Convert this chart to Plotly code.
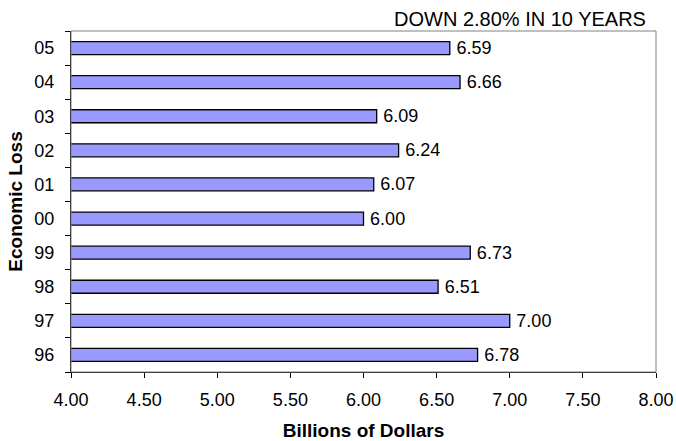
import plotly.graph_objects as go

years = ['96', '97', '98', '99', '00', '01', '02', '03', '04', '05']
losses = [6.78, 7.00, 6.51, 6.73, 6.00, 6.07, 6.24, 6.09, 6.66, 6.59]
x_ticks = [4.0, 4.5, 5.0, 5.5, 6.0, 6.5, 7.0, 7.5, 8.0]

fig = go.Figure()

fig.add_trace(go.Bar(
    x=losses,
    y=years,
    orientation='h',
    width=0.38,
    marker={'color': '#9999FF', 'line': {'color': 'black', 'width': 1.3}},
    texttemplate='\u2009%{x:.2f}',
    textposition='outside',
    constraintext='none',
    textfont={'family': 'Arial, Liberation Sans', 'size': 18, 'color': 'black'},
    cliponaxis=False,
))

fig.update_layout(
    width=676, height=441,
    margin={'l': 71, 'r': 20, 't': 31, 'b': 69},
    plot_bgcolor='white', paper_bgcolor='white',
    showlegend=False,
    font={'family': 'Arial, Liberation Sans', 'size': 18, 'color': 'black'},
    xaxis={
        'range': [4, 8],
        'tickvals': x_ticks,
        'ticktext': [f"{v:.2f}" for v in x_ticks],
        'ticks': 'outside', 'ticklen': 5, 'tickcolor': 'black',
        'ticklabelstandoff': 6,
        'showline': True, 'linecolor': 'black', 'linewidth': 1,
        'showgrid': False, 'zeroline': False,
        'automargin': False,
        'title': {'text': '<b>Billions of Dollars</b>', 'standoff': 18,
                  'font': {'size': 19}},
    },
    yaxis={
        'type': 'category',
        'categoryorder': 'array', 'categoryarray': years,
        'tickson': 'boundaries',
        'ticks': 'outside', 'ticklen': 5, 'tickcolor': 'black',
        'ticklabelstandoff': 12,
        'showline': True, 'linecolor': 'black', 'linewidth': 1,
        'showgrid': False,
        'automargin': False,
        'title': {'text': '<b>Economic Loss</b>', 'standoff': 6,
                  'font': {'size': 19}},
    },
    shapes=[{
        'type': 'rect', 'xref': 'paper', 'yref': 'paper',
        'x0': 0, 'x1': 1, 'y0': 0, 'y1': 1,
        'line': {'color': '#808080', 'width': 1},
    }],
    annotations=[{
        'text': 'DOWN 2.80% IN 10 YEARS',
        'xref': 'paper', 'yref': 'paper',
        'x': 0.986, 'y': 1.0, 'xanchor': 'right', 'yanchor': 'bottom',
        'yshift': -1,
        'showarrow': False, 'font': {'size': 20},
    }],
)

# drop the default 8px body margin so the figure fills the window exactly
fig.write_html("out.html", config={'displayModeBar': False},
               post_script="document.body.style.margin = '0';")
